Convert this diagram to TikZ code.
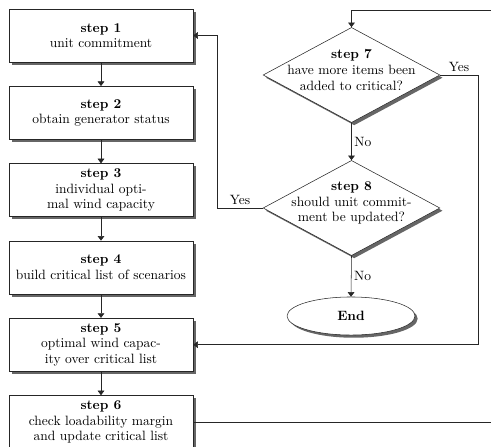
\documentclass[tikz,border=0pt]{standalone}
\usetikzlibrary{shapes.geometric,shadows,arrows.meta}
\begin{document}
\begin{tikzpicture}[x=0.741pt,y=-0.741pt,
  font=\fontsize{10}{11.5}\selectfont,
  shad/.style={drop shadow={shadow xshift=2pt,shadow yshift=-2pt,fill=black!60,opacity=1}},
  stepbox/.style={rectangle,draw=black!85,thin,fill=white,minimum width=136.3pt,minimum height=39.3pt,align=center,inner sep=1pt,shad},
  decision/.style={diamond,draw=black!85,thin,fill=white,minimum width=131pt,minimum height=70.5pt,inner sep=0pt,shad},
  dtext/.style={align=center,inner sep=0pt},
  term/.style={ellipse,draw=black!85,thin,fill=white,minimum width=94.8pt,minimum height=28.2pt,inner sep=0pt,shad},
  arr/.style={draw=black!85,thin,-{Triangle[width=5pt,length=3.4pt]}},
  lbl/.style={inner sep=2pt}]
\useasboundingbox (0,0) rectangle (491,446);
\clip (0,0) rectangle (491,446);

\node[stepbox] (s1) at (101,35.5) {\textbf{step 1}\\unit commitment};
\node[stepbox] (s2) at (101,112.8) {\textbf{step 2}\\obtain generator status};
\node[stepbox] (s3) at (101,190.1) {\textbf{step 3}\\individual opti-\\mal wind capacity};
\node[stepbox] (s4) at (101,267.4) {\textbf{step 4}\\build critical list of scenarios};
\node[stepbox] (s5) at (101,344.7) {\textbf{step 5}\\optimal wind capac-\\ity over critical list};
\node[stepbox] (s6) at (101,422) {\textbf{step 6}\\check loadability margin\\and update critical list};

\node[decision] (d7) at (351.5,75) {};
\node[dtext] (t7) at (351.5,70) {\textbf{step 7}\\have more items been\\added to critical?};
\node[decision] (d8) at (351.5,208) {};
\node[dtext] (t8) at (351.5,203) {\textbf{step 8}\\should unit commit-\\ment be updated?};
\node[term] (end) at (351,316) {\textbf{End}};

\coordinate (c1) at (217,208);
\coordinate (c2) at (217,35.5);
\coordinate (c3) at (478,75);
\coordinate (c4) at (478,344.7);
\coordinate (c5) at (530,422);
\coordinate (c6) at (530,10);
\coordinate (c7) at (351.5,10);

\draw[arr] (s1) -- (s2);
\draw[arr] (s2) -- (s3);
\draw[arr] (s3) -- (s4);
\draw[arr] (s4) -- (s5);
\draw[arr] (s5) -- (s6);

\draw[arr] (d7.south) -- node[lbl,right] {No} (d8.north);
\draw[arr] (d8.south) -- node[lbl,right] {No} (end.north);

\draw[arr] (d8.west) -- node[lbl,above] {Yes} (c1) -- (c2) -- (s1.east);
\draw[arr] (d7.east) -- node[lbl,above] {Yes} (c3) -- (c4) -- (s5.east);
\draw[arr] (s6.east) -- (c5) -- (c6) -- (c7) -- (d7.north);
\end{tikzpicture}
\end{document}
